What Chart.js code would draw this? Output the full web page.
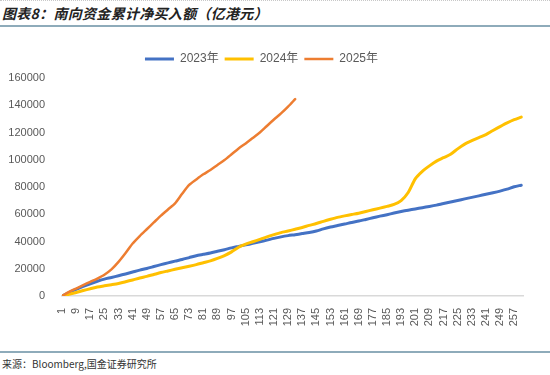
<!DOCTYPE html>
<html>
<head>
<meta charset="utf-8">
<script src="https://cdn.jsdelivr.net/npm/chart.js@4.4.1/dist/chart.umd.min.js"></script>
<style>
    body {
        margin: 0;
        width: 550px;
        height: 375px;
        background: #fff;
        position: relative;
        overflow: hidden;
        font-family: "Liberation Sans", "Noto Sans CJK SC", sans-serif;
    }
    #topDots {
        position: absolute;
        left: 0; top: 0; width: 550px;
        border-top: 1px dotted #c8c8c8;
    }
    #titulo {
        position: absolute;
        left: 2px; top: 3px;
        font-family: "Noto Sans CJK SC", sans-serif;
        font-size: 14px;
        font-weight: bold;
        font-style: italic;
        color: #222;
        letter-spacing: 0.3px;
    }
    .regua {
        position: absolute;
        left: 0; width: 550px; height: 2px;
        background: #8eabba;
    }
    #fonte {
        position: absolute;
        left: 2px; top: 356px;
        font-family: "Noto Sans CJK SC", sans-serif;
        font-size: 10px;
        color: #333;
    }
    #caixa {
        position: absolute;
        left: 0; top: 30px;
        width: 550px; height: 318px;
    }
</style>
</head>
<body>
<div id="topDots"></div>
<div id="titulo">图表8：南向资金累计净买入额（亿港元）</div>
<div class="regua" style="top:25px"></div>
<div id="caixa"><canvas id="grafico"></canvas></div>
<div class="regua" style="top:351px"></div>
<div id="fonte">来源：Bloomberg,国金证券研究所</div>

<script>
// trading day index (sampled every 4 days)
const dias = [1, 5, 9, 13, 17, 21, 25, 29, 33, 37, 41, 45, 49, 53, 57, 61, 65, 69, 73, 77,
    81, 85, 89, 93, 97, 101, 105, 109, 113, 117, 121, 125, 129, 133, 137, 141, 145, 149, 153, 157,
    161, 165, 169, 173, 177, 181, 185, 189, 193, 197, 201, 205, 209, 213, 217, 221, 225, 229, 233, 237,
    241, 245, 249, 253, 257, 261];

const ticksX = [1, 9, 17, 25, 33, 41, 49, 57, 65, 73, 81, 89, 97, 105, 113, 121, 129, 137, 145, 153,
    161, 169, 177, 185, 193, 201, 209, 217, 225, 233, 241, 249, 257];

const series = ["2023年", "2024年", "2025年"];

const v2023 = [0, 2500, 4800, 7000, 9000, 10800, 12400, 13600, 14900, 16200, 17600, 19000, 20200, 21600, 23000, 24300, 25600, 26800, 28200, 29600,
    30600, 31600, 32800, 34000, 35300, 36400, 37500, 38600, 39800, 41000, 42300, 43400, 44300, 45000, 45800, 46600, 47700, 49300, 50600, 51700,
    52800, 54000, 55000, 56200, 57400, 58600, 59700, 60900, 62000, 63000, 63900, 64800, 65700, 66700, 67900, 69000, 70100, 71300, 72400, 73500,
    74700, 75800, 77000, 78400, 80200, 81300];

const v2024 = [0, 1200, 2600, 4000, 5300, 6600, 7500, 8300, 9200, 10500, 11800, 13200, 14400, 15800, 17200, 18400, 19600, 20700, 21800, 23000,
    24400, 25800, 27600, 29700, 32400, 35800, 38000, 39800, 41600, 43400, 45000, 46500, 47700, 49000, 50300, 51800, 53200, 54800, 56300, 57700,
    58800, 59800, 60800, 62000, 63300, 64500, 65800, 67200, 70000, 76000, 86000, 91500, 95500, 99000, 101500, 104000, 108000, 111500, 114000, 116300,
    118500, 121500, 124300, 127000, 129400, 131300];

const v2025 = [0, 3000, 5500, 8000, 10400, 12800, 15600, 19500, 25000, 31500, 38500, 44000, 49000, 54000, 59000, 63500, 68000, 75000, 81500, 85500,
    89300, 92500, 96200, 99800, 104000, 108300, 112000, 116000, 120000, 124800, 129500, 134000, 139000, 144500];

const cores = ["#4472C4", "#FFC000", "#ED7D31"];

function pontos(valores) {
    return valores.map((v, i) => ({ x: dias[i], y: v }));
}

const fonteEixo = { family: "'Liberation Sans', 'Noto Sans CJK SC', sans-serif", size: 11 };

// a bit more room between the legend and the plot
const espacoLegenda = {
    id: "espacoLegenda",
    beforeInit(chart) {
        const fitOriginal = chart.legend.fit;
        chart.legend.fit = function () {
            fitOriginal.call(this);
            this.height += 3;
        };
    }
};

new Chart(document.getElementById("grafico"), {
    type: "line",
    data: {
        datasets: [
            { label: series[0], data: pontos(v2023), borderColor: cores[0], backgroundColor: cores[0], borderWidth: 3, order: 3 },
            { label: series[1], data: pontos(v2024), borderColor: cores[1], backgroundColor: cores[1], borderWidth: 3, order: 2 },
            { label: series[2], data: pontos(v2025), borderColor: cores[2], backgroundColor: cores[2], borderWidth: 2.5, order: 1 }
        ]
    },
    options: {
        responsive: true,
        maintainAspectRatio: false,
        animation: false,
        layout: {
            padding: { top: 17, right: 27, left: 0, bottom: 0 }
        },
        elements: {
            point: { radius: 0 },
            line: { tension: 0.25, borderCapStyle: "round" }
        },
        plugins: {
            tooltip: { enabled: false },
            legend: {
                position: "top",
                align: "center",
                labels: {
                    usePointStyle: true,
                    pointStyle: "line",
                    pointStyleWidth: 29,
                    boxWidth: 29,
                    boxHeight: 3,
                    padding: 6,
                    color: "#595959",
                    font: { family: "'Liberation Sans', 'Noto Sans CJK SC', sans-serif", size: 12 },
                    sort: (a, b) => a.datasetIndex - b.datasetIndex
                }
            }
        },
        scales: {
            x: {
                type: "linear",
                min: 1,
                max: 262,
                afterBuildTicks: function (escala) {
                    escala.ticks = ticksX.map(t => ({ value: t }));
                },
                afterFit: function (escala) {
                    escala.height = 52;
                },
                grid: { display: false },
                border: { display: true, color: "#d9d9d9", width: 1.5 },
                ticks: {
                    autoSkip: false,
                    minRotation: 90,
                    maxRotation: 90,
                    padding: 4,
                    color: "#595959",
                    font: fonteEixo,
                    callback: v => String(v)
                }
            },
            y: {
                min: 0,
                max: 160000,
                afterFit: function (escala) {
                    escala.width = 62;
                },
                grid: { display: false },
                border: { display: false },
                ticks: {
                    stepSize: 20000,
                    padding: 9,
                    color: "#595959",
                    font: fonteEixo,
                    callback: v => String(v)
                }
            }
        }
    },
    plugins: [espacoLegenda]
});
</script>
</body>
</html>
